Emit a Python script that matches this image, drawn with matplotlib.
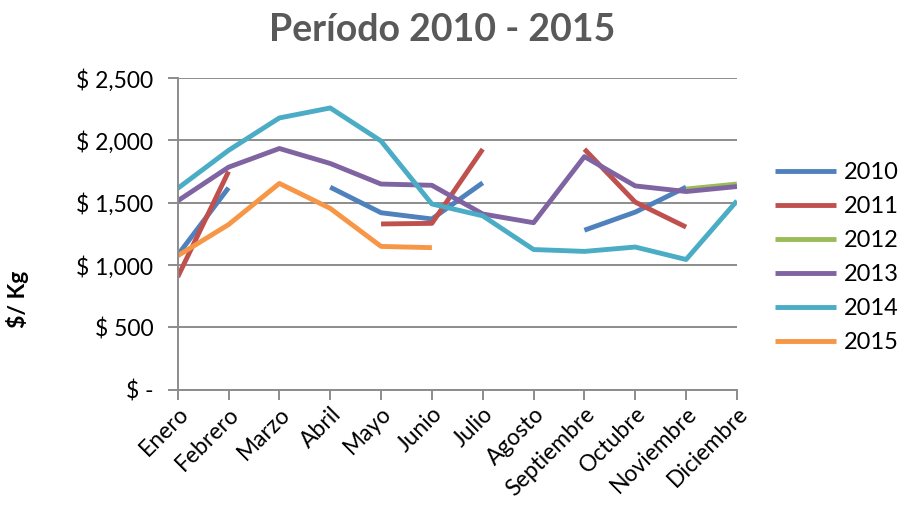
import matplotlib
matplotlib.use("Agg")
import matplotlib.pyplot as plt
import numpy as np

nan = np.nan
meses = ["Enero", "Febrero", "Marzo", "Abril", "Mayo", "Junio", "Julio",
         "Agosto", "Septiembre", "Octubre", "Noviembre", "Diciembre"]

# precios por año ($/Kg), huecos = sin dato
v2010 = [1080, 1620, nan, 1625, 1420, 1370, 1660, nan, 1280, 1425, 1625, nan]
v2011 = [905, 1750, nan, nan, 1330, 1335, 1930, nan, 1930, 1505, 1305, nan]
v2012 = [nan, nan, nan, nan, nan, nan, nan, nan, nan, nan, 1610, 1650]
v2013 = [1515, 1785, 1935, 1815, 1650, 1640, 1410, 1340, 1870, 1635, 1590, 1630]
v2014 = [1615, 1920, 2180, 2260, 1995, 1490, 1395, 1125, 1110, 1145, 1045, 1515]
v2015 = [1075, 1325, 1655, 1455, 1150, 1140, nan, nan, nan, nan, nan, nan]

series = [("2010", v2010, "#4F81BD"), ("2011", v2011, "#C0504D"),
          ("2012", v2012, "#9BBB59"), ("2013", v2013, "#8064A2"),
          ("2014", v2014, "#4BACC6"), ("2015", v2015, "#F79646")]

plt.rcParams['font.family'] = ['Lato', 'DejaVu Sans']

fig = plt.figure(figsize=(9.02, 5.05), dpi=100)
ax = fig.add_axes([0.197, 0.228, 0.62, 0.6175])

x = np.arange(len(meses))
for nombre, vals, color in series:
    ax.plot(x, vals, color=color, lw=3.5, label=nombre, solid_capstyle="butt")

ax.set_xlim(0, len(meses) - 1)
ax.set_ylim(0, 2500)
ax.set_yticks(range(0, 2501, 500))
ax.set_yticklabels(["$ -"] + ["$ {:,}".format(v) for v in range(500, 2501, 500)])
ax.set_xticks(x)
ax.set_xticklabels(meses, rotation=45, ha="right", rotation_mode="anchor")

ax.grid(axis="y", color="#8c8c8c", lw=1.4)
ax.set_axisbelow(True)
for s in ["top", "right"]:
    ax.spines[s].set_visible(False)
for s in ["left", "bottom"]:
    ax.spines[s].set_color("#8c8c8c")
    ax.spines[s].set_linewidth(1.4)
ax.tick_params(axis="both", colors="#8c8c8c", length=7.5, width=1.4, labelsize=16.5,
               labelcolor="black")
ax.tick_params(axis="x", pad=2)
ax.tick_params(axis="y", pad=10)

ax.set_ylabel("$/ Kg", fontsize=16.5, fontweight="bold")
ax.yaxis.set_label_coords(-0.265, 0.29)
fig.suptitle("Período 2010 - 2015", fontsize=27, fontweight="bold",
             color="#595959", x=0.49, y=0.975)

ax.legend(loc="center left", bbox_to_anchor=(1.03, 0.425), frameon=False,
          fontsize=17, handlelength=2.6, handletextpad=0.3, labelspacing=0.55)

fig.savefig("out.png", dpi=100)
